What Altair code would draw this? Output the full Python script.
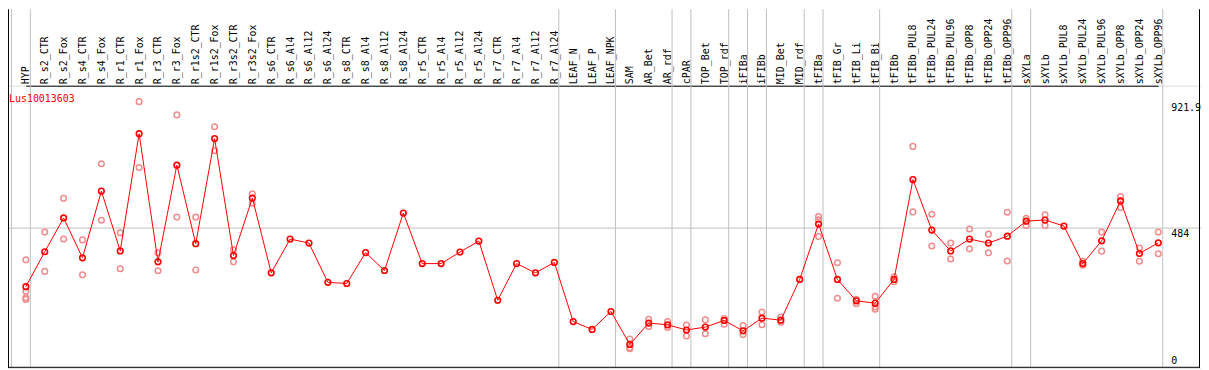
import altair as alt
import pandas as pd

categories = [
    "HYP", "R_s2_CTR", "R_s2_Fox", "R_s4_CTR", "R_s4_Fox", "R_r1_CTR", "R_r1_Fox",
    "R_r3_CTR", "R_r3_Fox", "R_r1s2_CTR", "R_r1s2_Fox", "R_r3s2_CTR", "R_r3s2_Fox",
    "R_s6_CTR", "R_s6_Al4", "R_s6_Al12", "R_s6_Al24", "R_s8_CTR", "R_s8_Al4",
    "R_s8_Al12", "R_s8_Al24", "R_r5_CTR", "R_r5_Al4", "R_r5_Al12", "R_r5_Al24",
    "R_r7_CTR", "R_r7_Al4", "R_r7_Al12", "R_r7_Al24", "LEAF_N", "LEAF_P", "LEAF_NPK",
    "SAM", "AR_Bet", "AR_rdf", "cPAR", "TOP_Bet", "TOP_rdf", "iFIBa", "iFIBb",
    "MID_Bet", "MID_rdf", "tFIBa", "tFIB_Gr", "tFIB_Li", "tFIB_Bi", "tFIBb",
    "tFIBb_PUL8", "tFIBb_PUL24", "tFIBb_PUL96", "tFIBb_OPP8", "tFIBb_OPP24",
    "tFIBb_OPP96", "sXYLa", "sXYLb", "sXYLb_PUL8", "sXYLb_PUL24", "sXYLb_PUL96",
    "sXYLb_OPP8", "sXYLb_OPP24", "sXYLb_OPP96",
]

means = [
    281, 402, 519, 381, 612, 405, 811,
    367, 702, 430, 794, 389, 588,
    329, 446, 432, 296, 292, 399,
    337, 536, 361, 361, 401, 439,
    234, 361, 329, 365, 160, 133, 195,
    81, 155, 149, 131, 141, 164, 128, 172,
    165, 306, 498, 306, 232, 224, 306,
    652, 477, 405, 446, 432,
    456, 508, 512, 491, 361, 440,
    578, 396, 433,
]

replicates = [
    [374, 265, 243, 237], [470, 334], [587, 446], [443, 322], [707, 511], [468, 343], [921.9, 694],
    [398, 336], [876, 522], [522, 339], [835, 752], [409, 367], [603, 570],
    [], [], [], [], [], [],
    [], [], [], [], [], [],
    [], [], [], [], [], [], [],
    [100, 70, 66], [168, 143], [160, 140], [148, 110], [166, 118], [171, 151], [146, 115], [193, 149],
    [176, 158], [], [524, 513, 455], [364, 241], [237, 222], [248, 211, 203], [315, 298],
    [767, 540], [532, 422], [432, 377], [481, 412], [463, 398],
    [539, 370], [518, 493], [530, 493], [], [369, 355], [470, 404],
    [593, 555], [415, 369], [470, 395],
]

group_starts = ["HYP", "R_s2_CTR", "LEAF_N", "SAM", "cPAR", "TOP_Bet", "iFIBa", "iFIBb",
                "MID_Bet", "tFIBa", "tFIB_Gr", "tFIBb", "sXYLa", "sXYLb"]
last_category = ["sXYLb_OPP96"]
ref_lines = [484]
right_label_values = [921.9, 484]
right_label_texts = ["921.9", "484"]
zero_label_values = [0]
zero_label_texts = ["0"]
gene = ["Lus10013603"]

mean_df = pd.DataFrame({"cat": categories, "val": means, "order": list(range(len(categories)))})
rep_df = pd.DataFrame([{"cat": c, "val": v} for c, reps in zip(categories, replicates) for v in reps])
start_df = pd.DataFrame({"cat": group_starts})
end_df = pd.DataFrame({"cat": last_category})
ref_df = pd.DataFrame({"val": ref_lines})
rl_df = pd.DataFrame({"val": right_label_values, "txt": right_label_texts})
zl_df = pd.DataFrame({"val": zero_label_values, "txt": zero_label_texts})
gene_df = pd.DataFrame({"txt": gene})
border_df = pd.DataFrame({"k": [0]})

xscale = alt.Scale(type="point", domain=categories, range=[18, 1158], padding=0)
yscale = alt.Scale(domain=[0, 977.2], nice=False, zero=True)

X = alt.X(
    "cat:N", scale=xscale, sort=categories,
    axis=alt.Axis(orient="top", labelAngle=270, labelAlign="left", labelBaseline="middle",
                  labelPadding=2, ticks=False, tickSize=0, grid=False, domain=True,
                  domainColor="black", domainWidth=1, labelFont="DejaVu Sans Mono",
                  labelFontSize=10, labelColor="black", labelOverlap=False, labelLimit=0,
                  title=None),
)
Y = alt.Y("val:Q", scale=yscale, axis=None)

grid_color = "#C0C0C0"
red = "#FF0000"
pale = "#F08C8C"

vgrid = alt.Chart(start_df).mark_rule(color=grid_color, strokeWidth=1, xOffset=-14.5).encode(
    x=X, y=alt.value(-77), y2=alt.value(284))
vgrid_end = alt.Chart(end_df).mark_rule(color=grid_color, strokeWidth=1, xOffset=4.5).encode(
    x=X, y=alt.value(-77), y2=alt.value(284))
hgrid = alt.Chart(ref_df).mark_rule(color=grid_color, strokeWidth=1).encode(y=Y)

reps = alt.Chart(rep_df).mark_point(shape="circle", filled=False, color=pale, size=32,
                                    strokeWidth=1.5, opacity=1).encode(x=X, y=Y)
line = alt.Chart(mean_df).mark_line(color=red, strokeWidth=1).encode(
    x=X, y=Y, order="order:Q")
pts = alt.Chart(mean_df).mark_point(shape="circle", filled=False, color=red, size=32,
                                    strokeWidth=1.6, opacity=1).encode(x=X, y=Y)

rlab = alt.Chart(rl_df).mark_text(align="left", baseline="top", dy=1, font="DejaVu Sans Mono",
                                  fontSize=10, color="black").encode(
    x=alt.value(1171), y=Y, text="txt:N")
zlab = alt.Chart(zl_df).mark_text(align="left", baseline="alphabetic", dy=-4,
                                  font="DejaVu Sans Mono", fontSize=10, color="black").encode(
    x=alt.value(1171), y=Y, text="txt:N")
glab = alt.Chart(gene_df).mark_text(align="left", baseline="alphabetic", font="DejaVu Sans Mono",
                                    fontSize=10, color=red).encode(
    x=alt.value(1), y=alt.value(16), text="txt:N")

bleft = alt.Chart(border_df).mark_rule(color="black", strokeWidth=1).encode(
    x=alt.value(0.5), y=alt.value(-77), y2=alt.value(284))
bright = alt.Chart(border_df).mark_rule(color="black", strokeWidth=1).encode(
    x=alt.value(1199.5), y=alt.value(-77), y2=alt.value(284))
bbottom = alt.Chart(border_df).mark_rule(color="black", strokeWidth=1).encode(
    x=alt.value(0), x2=alt.value(1200), y=alt.value(283.5))

chart = alt.layer(
    vgrid, vgrid_end, hgrid, reps, line, pts, rlab, zlab, glab, bleft, bright, bbottom
).properties(
    width=1201, height=284,
    padding={"left": 0, "top": 77, "right": 0, "bottom": 1},
    autosize="none",
).configure_view(stroke=None).configure(background="white")

chart.save("out.html", embed_options={"renderer": "svg", "actions": False})
